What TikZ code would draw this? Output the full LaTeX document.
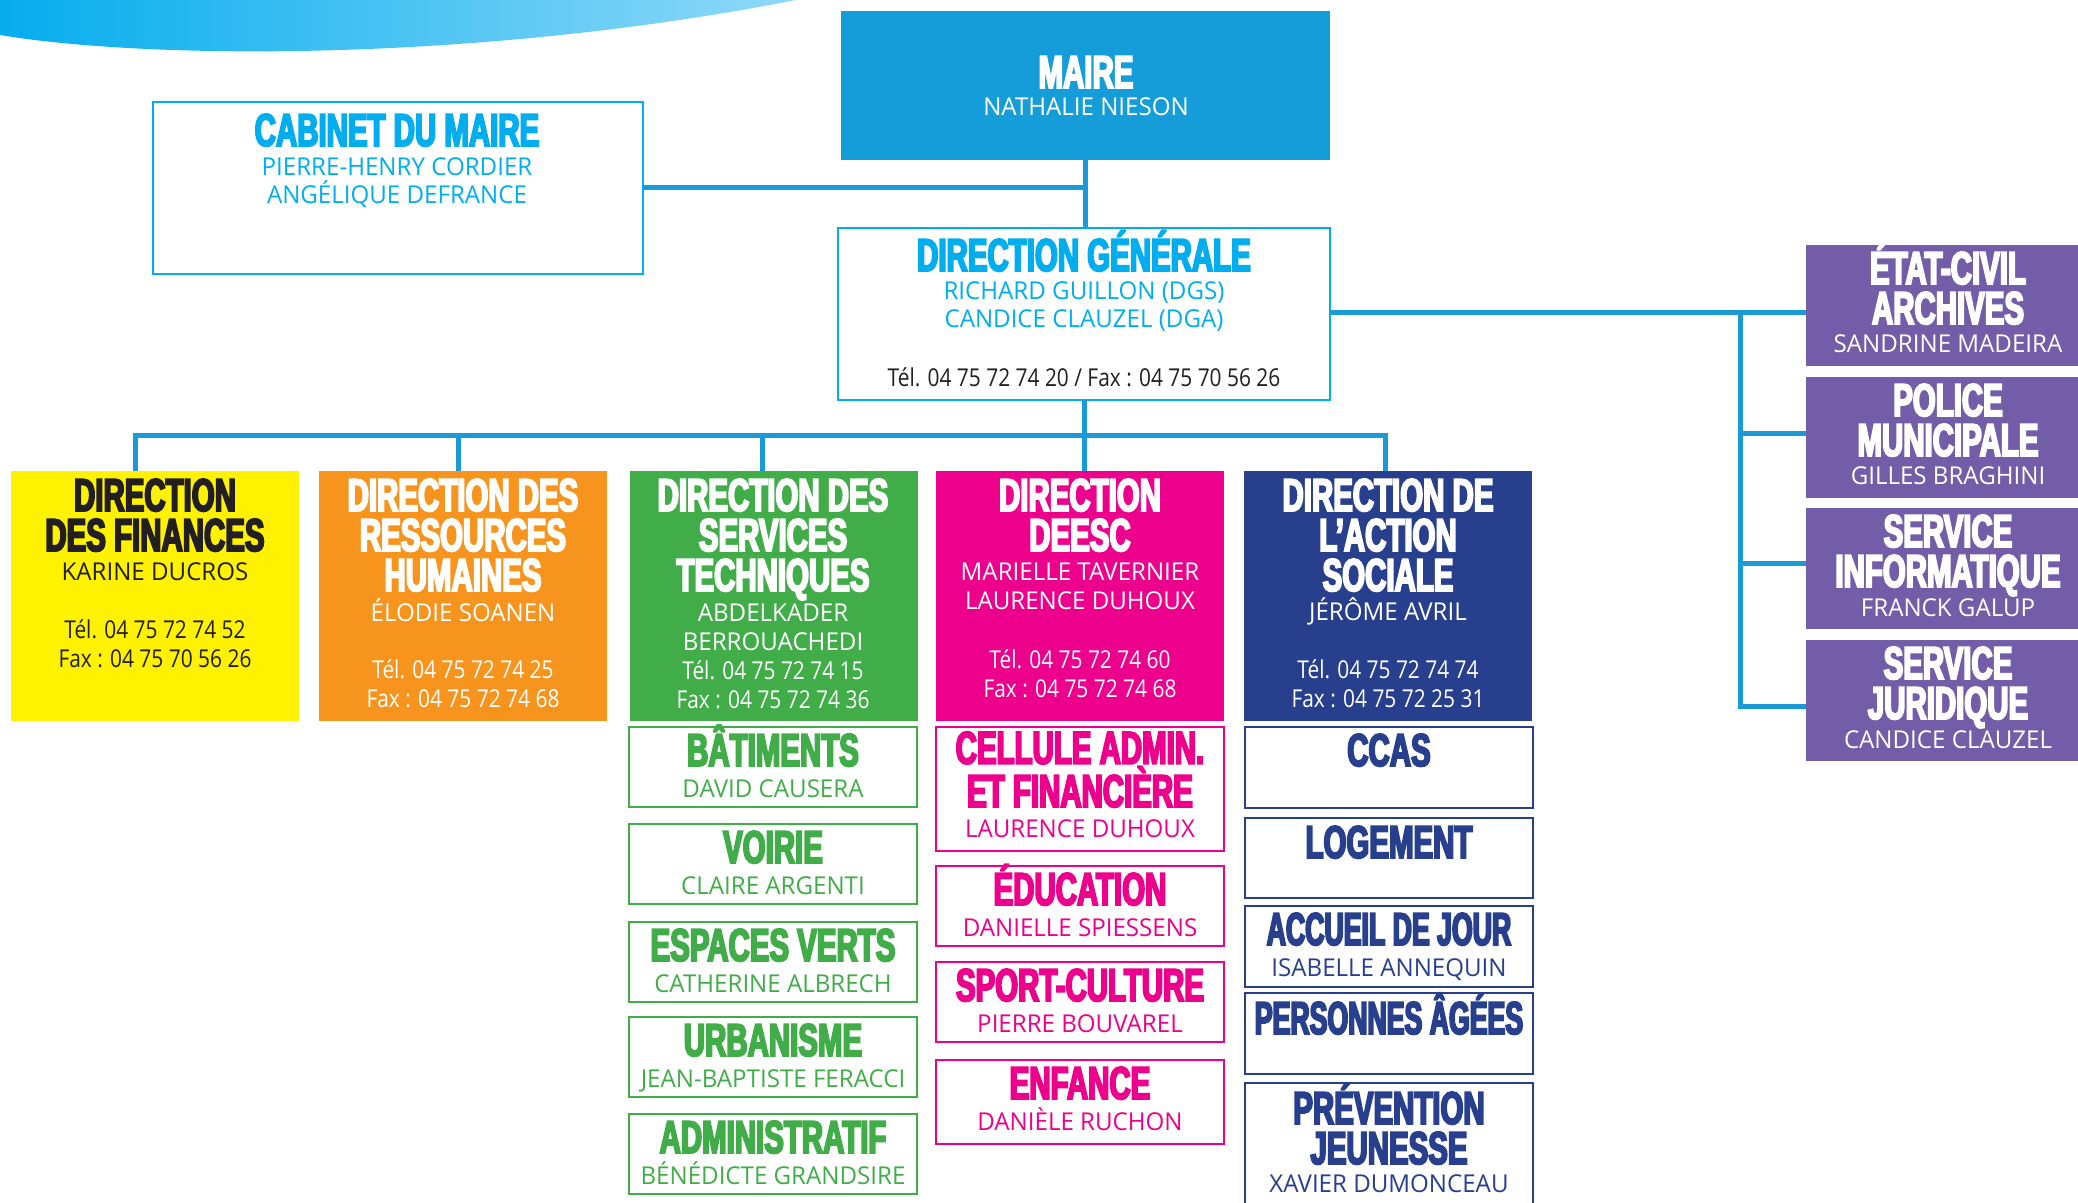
\documentclass[tikz,border=0pt]{standalone}
\usepackage{fontspec}
\newfontfamily\headfont[FakeStretch=0.64,BoldFeatures={FakeBold=4}]{Liberation Sans}
\newfontfamily\headfontserre[FakeStretch=0.58,BoldFeatures={FakeBold=4}]{Liberation Sans}
\newfontfamily\namefont[FakeStretch=0.98]{Open Sans}
\newfontfamily\telfont[FakeStretch=0.85]{Open Sans}
\usetikzlibrary{calc}
\definecolor{mairebleu}{HTML}{159DD9}
\definecolor{lienbleu}{HTML}{1A9BD7}
\definecolor{cyanmaire}{HTML}{00AEEF}
\definecolor{jaunefin}{HTML}{FFF200}
\definecolor{orangerh}{HTML}{F7941D}
\definecolor{vertst}{HTML}{41AD49}
\definecolor{rosedeesc}{HTML}{EC008C}
\definecolor{bleuas}{HTML}{283F8E}
\definecolor{violetsrv}{HTML}{735CA8}
\definecolor{noirtxt}{HTML}{231F20}
\definecolor{vagueg}{HTML}{05ADEE}
\definecolor{vagued}{HTML}{8FD9F8}
\tikzset{
  orgbox/.style={rectangle, anchor=north west, inner sep=0pt, outer sep=0pt},
  plein/.style={orgbox, fill=#1},
  cadre/.style={orgbox, draw=#1, line width=1pt, fill=white},
  titre/.style={font=\headfont\bfseries\fontsize{23}{20}\selectfont, align=center, anchor=base, inner sep=0pt},
  titreserre/.style={titre, font=\headfontserre\bfseries\fontsize{23}{20}\selectfont},
  nom/.style={font=\namefont\fontsize{12.3}{14.4}\selectfont, align=center, anchor=base, inner sep=0pt},
  tel/.style={nom, font=\telfont\fontsize{12.3}{14.4}\selectfont},
  lien/.style={draw=lienbleu, line width=2.5pt},
}
\begin{document}
\begin{tikzpicture}[x=0.5pt,y=-0.5pt]
\useasboundingbox (0,0) rectangle (2078,1203);
\fill[white] (0,0) rectangle (2078,1203);
% the wave in the corner
\shade[left color=vagueg, right color=vagued] (0,0) -- (0,35) .. controls (150,60) and (480,62) .. (796,0) -- cycle;
% mayor, cabinet and general direction
\node[plein=mairebleu, minimum width=244.5pt, minimum height=74.5pt] (maire) at (841,11) {};
\node[titre, text=white] (maire-t) at (1086,88) {MAIRE};
\node[nom, text=white] (maire-n) at (1086,116) {NATHALIE NIESON};
\node[cadre=cyanmaire, line width=1.2pt, minimum width=245pt, minimum height=86pt] (cab) at (153,102) {};
\node[titre, text=cyanmaire] (cab-t) at (397,146) {CABINET DU MAIRE};
\node[nom, text=cyanmaire] (cab-n) at (397,204) {PIERRE-HENRY CORDIER\\ANGÉLIQUE DEFRANCE};
\node[cadre=cyanmaire, line width=0.8pt, minimum width=246pt, minimum height=86pt] (dg) at (838,228) {};
\node[titre, text=cyanmaire] (dg-t) at (1084,271) {DIRECTION GÉNÉRALE};
\node[nom, text=cyanmaire] (dg-n) at (1084,328) {RICHARD GUILLON (DGS)\\CANDICE CLAUZEL (DGA)};
\node[tel, text=noirtxt] (dg-tel) at (1084,387) {Tél. 04 75 72 74 20 / Fax : 04 75 70 56 26};
% the five directions
\node[plein=jaunefin, minimum width=144pt, minimum height=125pt] (fin) at (11,471) {};
\node[titre, text=noirtxt] (fin-t) at (155,551) {DIRECTION\\DES FINANCES};
\node[nom, text=noirtxt] (fin-n) at (155,581) {KARINE DUCROS};
\node[tel, text=noirtxt] (fin-tel) at (155,667) {Tél. 04 75 72 74 52\\Fax : 04 75 70 56 26};
\node[plein=orangerh, minimum width=144pt, minimum height=125pt] (drh) at (319,471) {};
\node[titre, text=white] (drh-t) at (463,591) {DIRECTION DES\\RESSOURCES\\HUMAINES};
\node[nom, text=white] (drh-n) at (463,621) {ÉLODIE SOANEN};
\node[tel, text=white] (drh-tel) at (463,707) {Tél. 04 75 72 74 25\\Fax : 04 75 72 74 68};
\node[plein=vertst, minimum width=144pt, minimum height=125pt] (dst) at (630,471) {};
\node[titre, text=white] (dst-t) at (773,591) {DIRECTION DES\\SERVICES\\TECHNIQUES};
\node[nom, text=white] (dst-n) at (773,650) {ABDELKADER\\BERROUACHEDI};
\node[tel, text=white] (dst-tel) at (773,708) {Tél. 04 75 72 74 15\\Fax : 04 75 72 74 36};
\node[plein=rosedeesc, minimum width=144pt, minimum height=125pt] (deesc) at (936,471) {};
\node[titre, text=white] (deesc-t) at (1080,551) {DIRECTION\\DEESC};
\node[nom, text=white] (deesc-n) at (1080,609) {MARIELLE TAVERNIER\\LAURENCE DUHOUX};
\node[tel, text=white] (deesc-tel) at (1080,697) {Tél. 04 75 72 74 60\\Fax : 04 75 72 74 68};
\node[plein=bleuas, minimum width=144pt, minimum height=125pt] (das) at (1244,471) {};
\node[titre, text=white] (das-t) at (1388,591) {DIRECTION DE\\L’ACTION\\SOCIALE};
\node[nom, text=white] (das-n) at (1388,620) {JÉRÔME AVRIL};
\node[tel, text=white] (das-tel) at (1388,707) {Tél. 04 75 72 74 74\\Fax : 04 75 72 25 31};
% services on the right
\foreach \id/\y/\lbl/\pers in {etat/245/ÉTAT-CIVIL\\ARCHIVES/SANDRINE MADEIRA,
    police/377/POLICE\\MUNICIPALE/GILLES BRAGHINI,
    info/508/SERVICE\\INFORMATIQUE/FRANCK GALUP,
    jur/640/SERVICE\\JURIDIQUE/CANDICE CLAUZEL}
{
  \node[plein=violetsrv, minimum width=136pt, minimum height=60.5pt] (\id) at (1806,\y) {};
  \node[titre, text=white] (\id-t) at ($(\id.north)+(6,79)$) {\lbl};
  \node[nom, text=white] (\id-n) at ($(\id.north)+(6,108)$) {\pers};
}
% technical services
\foreach \id/\y/\lbl/\pers in {bat/727/BÂTIMENTS/DAVID CAUSERA,
    voirie/824/VOIRIE/CLAIRE ARGENTI,
    espaces/922/ESPACES VERTS/CATHERINE ALBRECH,
    urba/1017/URBANISME/JEAN-BAPTISTE FERACCI,
    admin/1114/ADMINISTRATIF/BÉNÉDICTE GRANDSIRE}
{
  \node[cadre=vertst, minimum width=144pt, minimum height=40pt] (\id) at (629,\y) {};
  \node[titre, text=vertst] (\id-t) at ($(\id.north)+(0,39)$) {\lbl};
  \node[nom, text=vertst] (\id-n) at ($(\id.north)+(0,70)$) {\pers};
}
% DEESC services
\node[cadre=rosedeesc, minimum width=144pt, minimum height=62pt] (cellule) at (936,727) {};
\node[titre, text=rosedeesc] (cellule-t) at ($(cellule.north)+(0,80)$) {CELLULE ADMIN.\\ET FINANCIÈRE};
\node[nom, text=rosedeesc] (cellule-n) at ($(cellule.north)+(0,110)$) {LAURENCE DUHOUX};
\foreach \id/\y/\h/\lbl/\pers in {educ/866/40pt/ÉDUCATION/DANIELLE SPIESSENS,
    sport/962/40pt/SPORT-CULTURE/PIERRE BOUVAREL,
    enfance/1060/42pt/ENFANCE/DANIÈLE RUCHON}
{
  \node[cadre=rosedeesc, minimum width=144pt, minimum height=\h] (\id) at (936,\y) {};
  \node[titre, text=rosedeesc] (\id-t) at ($(\id.north)+(0,39)$) {\lbl};
  \node[nom, text=rosedeesc] (\id-n) at ($(\id.north)+(0,70)$) {\pers};
}
% social action services
\node[cadre=bleuas, minimum width=144pt, minimum height=40.5pt] (ccas) at (1245,727) {};
\node[titre, text=bleuas] (ccas-t) at ($(ccas.north)+(0,39)$) {CCAS};
\node[cadre=bleuas, minimum width=144pt, minimum height=40pt] (logement) at (1245,818) {};
\node[titre, text=bleuas] (logement-t) at ($(logement.north)+(0,40)$) {LOGEMENT};
\node[cadre=bleuas, minimum width=144pt, minimum height=40.5pt] (accueil) at (1245,906) {};
\node[titreserre, text=bleuas] (accueil-t) at ($(accueil.north)+(0,39)$) {ACCUEIL DE JOUR};
\node[nom, text=bleuas] (accueil-n) at ($(accueil.north)+(0,70)$) {ISABELLE ANNEQUIN};
\node[cadre=bleuas, minimum width=144pt, minimum height=40.5pt] (agees) at (1245,993) {};
\node[titreserre, text=bleuas] (agees-t) at ($(agees.north)+(0,41)$) {PERSONNES ÂGÉES};
\node[cadre=bleuas, minimum width=144pt, minimum height=70pt] (prev) at (1245,1083) {};
\node[titre, text=bleuas] (prev-t) at ($(prev.north)+(0,81)$) {PRÉVENTION\\JEUNESSE};
\node[nom, text=bleuas] (prev-n) at ($(prev.north)+(0,109)$) {XAVIER DUMONCEAU};
% the links
\draw[lien] (maire.south) -- (maire.south |- dg.north);
\draw[lien] (cab.east) -- (cab.east -| maire.south);
\coordinate (bus) at (dg.south |- 0,436);
\draw[lien] (dg.south) -- (bus);
\draw[lien] ([xshift=-10pt]fin.north) |- (bus) -| ([xshift=-1.5pt]das.north);
\foreach \b/\dx in {drh/-2.5pt, dst/-6pt, deesc/2pt}
  \draw[lien] ([xshift=\dx]\b.north) |- (bus);
\coordinate (tronc) at (1740,313);
\draw[lien] (dg.east |- tronc) -- (etat.west |- tronc);
\draw[lien] (tronc) |- ([yshift=-2.75pt]jur.west);
\foreach \b/\dy in {police/1.75pt, info/2.5pt}
  \draw[lien] ([yshift=\dy]\b.west) -| (tronc);
\end{tikzpicture}
\end{document}
